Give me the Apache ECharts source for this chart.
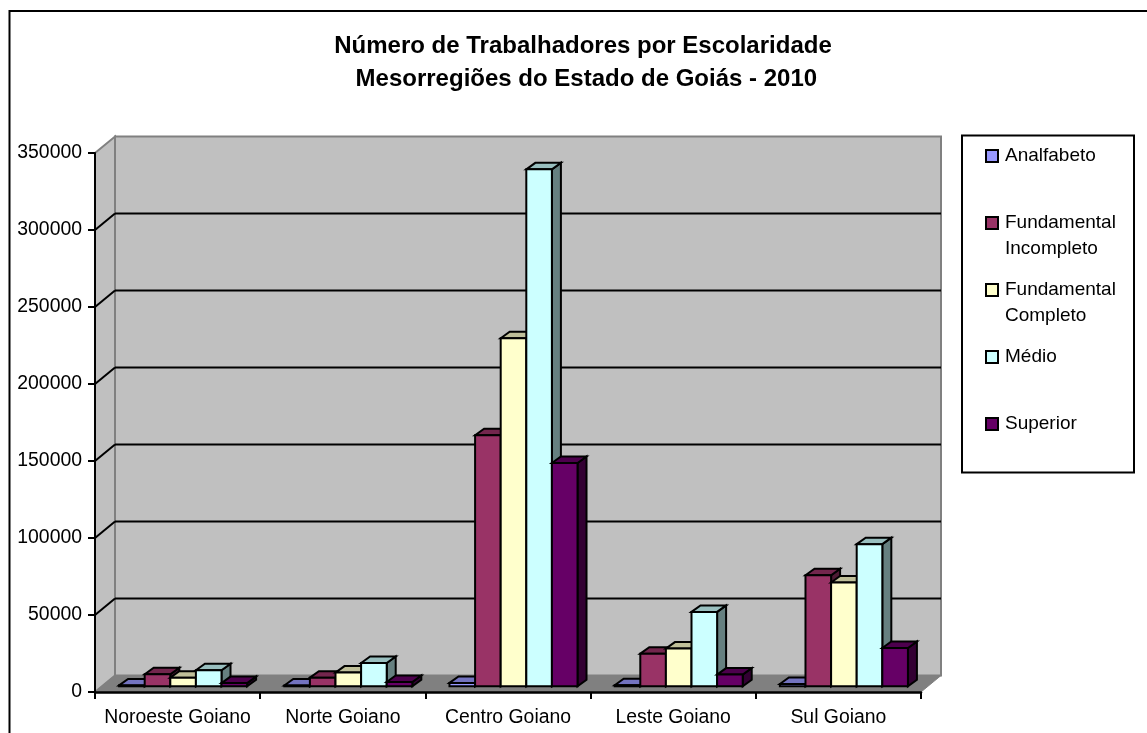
<!DOCTYPE html>
<html>
<head>
<meta charset="utf-8">
<title>Número de Trabalhadores por Escolaridade</title>
<script src="https://cdn.jsdelivr.net/npm/echarts@6/dist/echarts.min.js"></script>
<style>
html, body { margin: 0; padding: 0; background: #fff; }
#main { width: 1147px; height: 733px; }
</style>
</head>
<body>
<div id="main"></div>
<script>
// dados
var categorias = ['Noroeste Goiano', 'Norte Goiano', 'Centro Goiano', 'Leste Goiano', 'Sul Goiano'];
var analfabeto = [600, 500, 2200, 700, 1500];
var fundIncompleto = [7800, 5600, 163000, 21200, 72100];
var fundCompleto = [5600, 8900, 226000, 24500, 67400];
var medio = [10400, 15100, 335700, 48300, 92300];
var superior = [2100, 2800, 145000, 7600, 24900];
var valorTicks = [50000, 100000, 150000, 200000, 250000, 300000];

var nomes = ['Analfabeto', 'Fundamental Incompleto', 'Fundamental Completo', 'Médio', 'Superior'];
var legendaTexto = ['\nAnalfabeto\n', '\nFundamental\nIncompleto', '\nFundamental\nCompleto', '\nMédio\n', '\nSuperior\n'];
var valores = [analfabeto, fundIncompleto, fundCompleto, medio, superior];
var cores = ['#9999ff', '#993366', '#ffffcc', '#ccffff', '#660066'];

var fonte = '"Liberation Sans", Arial, sans-serif';

// profundidade da parede do fundo e das barras, em pixels
var paredeDx = 20, paredeDy = 16.5;
var barraDx = 9, barraDy = 6.5;
var baseDx = 5.5, baseDy = 5.7;

function escurece(hex, f) {
    var n = parseInt(hex.slice(1), 16);
    var r = Math.round((n >> 16 & 255) * f);
    var g = Math.round((n >> 8 & 255) * f);
    var b = Math.round((n & 255) * f);
    return 'rgb(' + r + ',' + g + ',' + b + ')';
}

function poligono(pontos, cor, borda, largura) {
    return {
        type: 'polygon',
        shape: { points: pontos },
        style: { fill: cor, stroke: borda, lineWidth: largura, lineJoin: 'miter' }
    };
}

function desenhaParedes(params, api) {
    var r = params.coordSys;
    var x0 = r.x, x1 = r.x + r.width, y0 = r.y, y1 = r.y + r.height;
    var dx = paredeDx, dy = paredeDy;
    return {
        type: 'group',
        children: [
            poligono([[x0, y0], [x0 + dx, y0 - dy], [x0 + dx, y1 - dy], [x0, y1]], '#c0c0c0', '#808080', 2),
            poligono([[x0 + dx, y0 - dy], [x1 + dx, y0 - dy], [x1 + dx, y1 - dy], [x0 + dx, y1 - dy]], '#c0c0c0', '#808080', 2),
            poligono([[x0, y1], [x0 + dx, y1 - dy], [x1 + dx, y1 - dy], [x1, y1]], '#808080', '#808080', 1)
        ]
    };
}

function desenhaGrade(params, api) {
    var r = params.coordSys;
    var y = api.coord([0, api.value(1)])[1];
    var traco = { stroke: '#000', lineWidth: 2 };
    return {
        type: 'group',
        children: [
            { type: 'line', shape: { x1: r.x, y1: y, x2: r.x + paredeDx, y2: y - paredeDy }, style: traco },
            { type: 'line', shape: { x1: r.x + paredeDx, y1: y - paredeDy, x2: r.x + r.width + paredeDx, y2: y - paredeDy }, style: traco }
        ]
    };
}

function desenhaBarra(indice) {
    return function (params, api) {
        var largura = api.size([1, 0])[0] * 0.155;
        var centro = api.coord([api.value(0), 0]);
        var topo = api.coord([api.value(0), api.value(1)]);
        var x0 = centro[0] + baseDx + (indice - 2.5) * largura;
        var x1 = x0 + largura;
        var yb = centro[1] - baseDy;
        var yt = topo[1] - baseDy;
        var cor = cores[indice];
        return {
            type: 'group',
            children: [
                poligono([[x1, yt], [x1 + barraDx, yt - barraDy], [x1 + barraDx, yb - barraDy], [x1, yb]], escurece(cor, 0.5), '#000', 2),
                poligono([[x0, yt], [x0 + barraDx, yt - barraDy], [x1 + barraDx, yt - barraDy], [x1, yt]], escurece(cor, 0.75), '#000', 2),
                poligono([[x0, yt], [x1, yt], [x1, yb], [x0, yb]], cor, '#000', 2)
            ]
        };
    };
}

var series = [
    {
        type: 'custom',
        name: 'paredes',
        silent: true,
        z: 1,
        data: [[0, 0]],
        renderItem: desenhaParedes
    },
    {
        type: 'custom',
        name: 'grade',
        silent: true,
        z: 2,
        data: valorTicks.map(function (v) { return [0, v]; }),
        renderItem: desenhaGrade
    }
];

nomes.forEach(function (nome, i) {
    series.push({
        type: 'custom',
        name: nome,
        z: 3 + i,
        itemStyle: { color: cores[i] },
        data: valores[i].map(function (v, k) { return [k, v]; }),
        renderItem: desenhaBarra(i)
    });
});

var myChart = echarts.init(document.getElementById('main'), null, { renderer: 'canvas' });
myChart.setOption({
    animation: false,
    backgroundColor: '#fff',
    textStyle: { fontFamily: fonte },
    title: {
        text: 'Número de Trabalhadores por Escolaridade\n Mesorregiões do Estado de Goiás - 2010',
        left: 583,
        top: 30,
        padding: 0,
        textAlign: 'center',
        textStyle: { fontFamily: fonte, fontSize: 24, fontWeight: 'bold', color: '#000', lineHeight: 33 }
    },
    legend: {
        orient: 'vertical',
        left: 985,
        top: 117,
        padding: 0,
        itemGap: -11,
        itemWidth: 12,
        itemHeight: 12,
        icon: 'rect',
        selectedMode: false,
        data: nomes.map(function (nome, i) {
            return { name: nome, itemStyle: { color: cores[i], borderColor: '#000', borderWidth: 2 } };
        }),
        formatter: function (nome) {
            return legendaTexto[nomes.indexOf(nome)];
        },
        textStyle: { fontFamily: fonte, fontSize: 19, lineHeight: 26, color: '#000', padding: [0, 0, 0, 2] }
    },
    grid: { left: 95, right: 226, top: 153, bottom: 41 },
    xAxis: {
        type: 'category',
        data: categorias,
        z: 20,
        axisLine: { lineStyle: { color: '#000', width: 2.5 } },
        axisTick: { show: true, length: 7, alignWithLabel: false, lineStyle: { color: '#000', width: 2 } },
        axisLabel: { margin: 16, fontFamily: fonte, fontSize: 19.4, color: '#000', interval: 0 },
        splitLine: { show: false }
    },
    yAxis: {
        type: 'value',
        min: 0,
        max: 350000,
        interval: 50000,
        z: 20,
        axisLine: { show: true, lineStyle: { color: '#000', width: 2 } },
        axisTick: { show: true, length: 7, lineStyle: { color: '#000', width: 2 } },
        axisLabel: {
            margin: 13,
            fontFamily: fonte,
            fontSize: 19.4,
            color: '#000',
            padding: [3, 0, 0, 0],
            formatter: function (v) { return String(v); }
        },
        splitLine: { show: false }
    },
    graphic: [
        {
            type: 'polyline',
            shape: { points: [[9.5, 733], [9.5, 11], [1147, 11]] },
            style: { fill: null, stroke: '#000', lineWidth: 2 }
        },
        {
            type: 'rect',
            shape: { x: 962, y: 135.5, width: 172, height: 337 },
            style: { fill: '#fff', stroke: '#000', lineWidth: 2 }
        }
    ],
    series: series
});
</script>
</body>
</html>
